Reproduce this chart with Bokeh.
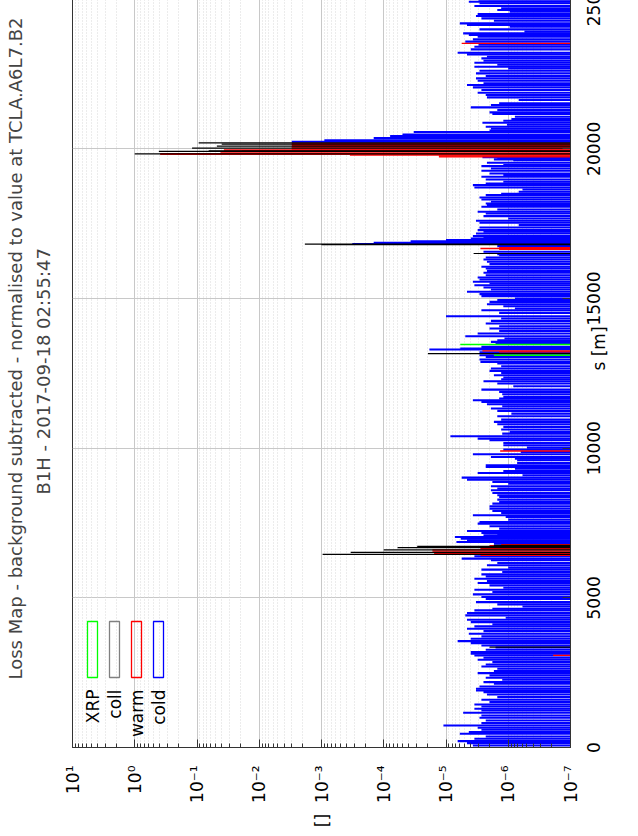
import math
from bokeh.plotting import figure
from bokeh.models import Range1d, FixedTicker, Title, Label, BoxAnnotation, InlineStyleSheet
from bokeh.embed import file_html
from bokeh.resources import INLINE

# ---------------- data ----------------
cold_s = [
    68, 146, 213, 291, 369, 458, 514, 592, 658, 736,
    815, 904, 993, 1071, 1160, 1238, 1294, 1372, 1438, 1516,
    1594, 1683, 1773, 1851, 1906, 1962, 2040, 2129, 2185, 2263,
    2330, 2408, 2486, 2552, 2630, 2708, 2775, 2853, 2931, 2998,
    3076, 3132, 3187, 3265, 3340, 3410, 3488, 3555, 3633, 3711,
    3800, 3889, 3967, 4045, 4112, 4190, 4268, 4335, 4413, 4491,
    4580, 4635, 4713, 4780, 4858, 4961, 5028, 5117, 5194, 5272,
    5339, 5417, 5495, 5562, 5640, 5718, 5785, 5863, 5941, 6008,
    6086, 6164, 6253, 6309, 6387, 6808, 6866, 6920, 6976, 7031,
    7087, 7120, 7166, 7233, 7311, 7389, 7478, 7534, 7612, 7701,
    7757, 7835, 7901, 7979, 8058, 8147, 8202, 8280, 8369, 8425,
    8503, 8592, 8648, 8726, 8815, 8871, 8949, 9016, 9094, 9172,
    9238, 9316, 9372, 9428, 9506, 9595, 9651, 9706, 9795, 9873,
    9950, 10019, 10097, 10175, 10264, 10320, 10398, 10487, 10543, 10621,
    10710, 10799, 10877, 10955, 11066, 11155, 11245, 11323, 11400, 11467,
    11545, 11601, 11657, 11712, 11802, 11880, 11957, 12069, 12158, 12236,
    12300, 12359, 12437, 12515, 12581, 12659, 12737, 12826, 12882, 12960,
    13049, 13105, 13200, 13294, 13327, 13384, 13494, 13551, 13606, 13662,
    13740, 13829, 13918, 13996, 14074, 14163, 14252, 14330, 14408, 14520,
    14609, 14664, 14742, 14809, 14887, 14950, 15000, 15078, 15145, 15223,
    15301, 15367, 15445, 15501, 15557, 15635, 15701, 15779, 15858, 15924,
    16002, 16058, 16147, 16225, 16303, 16370, 16448, 16481, 16560, 16750,
    16820, 16860, 16915, 16949, 17005, 17039, 17083, 17172, 17228, 17284,
    17373, 17451, 17529, 17595, 17673, 17751, 17840, 17896, 17974, 18063,
    18119, 18175, 18230, 18308, 18375, 18453, 18500, 18565, 18643, 18709,
    18787, 18843, 18899, 18977, 19066, 19121, 19177, 19266, 19344, 19422,
    19456, 19534, 19623, 19647, 19679, 19724, 20235, 20282, 20359, 20426,
    20480, 20560, 20610, 20670, 20739, 20803, 20870, 20939, 20995, 21073,
    21162, 21218, 21296, 21385, 21463, 21519, 21630, 21719, 21797, 21875,
    21964, 22053, 22131, 22187, 22276, 22354, 22432, 22521, 22610, 22688,
    22744, 22810, 22878, 22944, 23022, 23078, 23156, 23212, 23323, 23412,
    23480, 23580, 23657, 23747, 23802, 23858, 23914, 23992, 24081, 24137,
    24192, 24281, 24359, 24437, 24504, 24582, 24640, 24694, 24772, 24861,
    24916, 24980, 25060, 25140,
]
cold_v = [
    3.7e-6, 4.6e-6, 6.5e-6, 3.5e-6, 2.3e-6, 6.0e-6, 4.3e-6, 2.7e-6, 3.1e-6, 1.1e-5,
    2.7e-6, 2.3e-6, 2.9e-6, 2.7e-6, 5.3e-6, 2.7e-6, 3.5e-6, 2.7e-6, 3.5e-6, 2.0e-6,
    2.7e-6, 1.5e-6, 2.2e-6, 2.5e-6, 3.3e-6, 3.3e-6, 2.9e-6, 1.7e-6, 2.5e-6, 1.25e-6,
    2.3e-6, 2.0e-6, 3.1e-6, 1.7e-6, 1.5e-6, 2.7e-6, 2.3e-6, 1.8e-6, 3.1e-6, 2.5e-6,
    3.5e-6, 4.0e-6, 4.0e-6, 2.3e-6, 1.6e-6, 2.7e-6, 4.0e-6, 6.5e-6, 4.0e-6, 2.7e-6,
    4.3e-6, 2.5e-6, 4.6e-6, 3.5e-6, 1.8e-6, 4.0e-6, 4.6e-6, 1.1e-6, 4.9e-6, 4.6e-6,
    3.5e-6, 1.8e-6, 5.9e-7, 1.5e-6, 3.3e-6, 2.3e-6, 2.7e-6, 3.7e-6, 1.8e-6, 3.5e-6,
    1.2e-6, 2.0e-6, 3.1e-6, 2.2e-6, 3.5e-6, 2.3e-6, 2.7e-6, 1.25e-6, 2.7e-6, 1.0e-6,
    2.2e-6, 1.5e-6, 1.9e-6, 5.6e-6, 3.5e-6, 1.7e-6, 6.8e-6, 4.6e-6, 5.8e-6, 7.2e-6,
    2.5e-6, 1.5e-6, 2.7e-6, 4.6e-6, 1.4e-6, 2.0e-6, 3.1e-6, 2.9e-6, 1.0e-6, 1.1e-6,
    3.7e-6, 1.3e-6, 1.8e-6, 2.0e-6, 2.0e-6, 1.8e-6, 1.4e-6, 1.5e-6, 1.4e-6, 1.5e-6,
    1.8e-6, 1.9e-6, 1.5e-6, 1.9e-6, 1.0e-6, 1.8e-6, 4.6e-6, 5.6e-6, 5.9e-7, 3.1e-6,
    1.2e-6, 7.8e-7, 2.3e-6, 2.3e-6, 7.2e-7, 7.2e-7, 7.8e-7, 1.9e-6, 3.7e-6, 6.3e-7,
    1.2e-6, 5.0e-7, 1.2e-6, 1.2e-6, 2.0e-6, 3.1e-6, 8.5e-6, 1.25e-6, 9.5e-7, 1.3e-6,
    1.2e-6, 1.5e-6, 1.7e-6, 1.3e-6, 1.5e-6, 8.9e-7, 1.5e-6, 1.9e-6, 1.25e-6, 2.2e-6,
    2.7e-6, 3.7e-6, 1.4e-6, 1.2e-6, 1.25e-6, 1.4e-6, 2.7e-6, 8.3e-7, 1.5e-6, 2.5e-6,
    1.3e-6, 1.2e-6, 1.7e-6, 1.3e-6, 2.0e-6, 1.9e-6, 1.3e-6, 1.5e-6, 2.8e-6, 2.9e-6,
    2.3e-6, 2.9e-6, 2.9e-6, 1.85e-5, 5.9e-6, 2.7e-6, 1.6e-6, 1.9e-6, 1.5e-6, 1.15e-6,
    4.9e-6, 3.1e-6, 1.4e-6, 2.0e-6, 1.4e-6, 2.3e-6, 1.9e-6, 1.3e-6, 1.0e-5, 1.4e-6,
    2.7e-6, 7.8e-7, 1.2e-6, 2.2e-6, 2.0e-6, 1.5e-6, 7.8e-7, 2.7e-6, 2.9e-6, 4.6e-6,
    1.9e-6, 2.5e-6, 3.5e-6, 2.0e-6, 3.7e-6, 2.9e-6, 3.1e-6, 2.3e-6, 2.5e-6, 2.2e-6,
    2.3e-6, 2.7e-6, 2.0e-6, 2.2e-6, 2.5e-6, 2.3e-6, 1.4e-6, 1.5e-6, 2.5e-6, 1.5e-6,
    3.2e-4, 1.45e-4, 3.7e-5, 1.0e-5, 4.0e-6, 2.5e-6, 3.7e-6, 3.3e-6, 2.5e-6, 3.1e-6,
    2.9e-6, 6.8e-7, 2.9e-6, 3.3e-6, 1.0e-6, 2.5e-6, 2.3e-6, 3.1e-6, 1.5e-6, 2.7e-6,
    2.2e-6, 2.3e-6, 1.9e-6, 2.7e-6, 2.9e-6, 2.3e-6, 1.3e-6, 6.8e-7, 5.9e-7, 3.5e-6,
    3.7e-6, 2.3e-6, 1.2e-6, 2.3e-6, 2.7e-6, 1.2e-6, 2.0e-6, 2.7e-6, 1.9e-6, 2.7e-6,
    1.2e-6, 2.2e-6, 8.3e-7, 1.7e-6, 1.5e-6, 2.6e-6, 3.0e-3, 9.0e-4, 1.45e-4, 7.9e-5,
    5.0e-5, 3.3e-5, 2.0e-6, 1.9e-6, 2.3e-6, 1.05e-6, 2.6e-6, 1.2e-6, 8.9e-7, 7.8e-7,
    1.8e-6, 2.0e-6, 1.5e-6, 4.0e-6, 1.9e-6, 1.4e-6, 6.8e-7, 2.2e-6, 2.3e-6, 3.1e-6,
    2.7e-6, 3.7e-6, 4.6e-6, 2.5e-6, 3.1e-6, 3.3e-6, 2.3e-6, 3.3e-6, 2.9e-6, 1.0e-6,
    3.5e-6, 1.5e-6, 3.5e-6, 2.5e-6, 2.7e-6, 2.2e-6, 4.6e-6, 6.5e-6, 4.0e-6, 3.5e-6,
    3.0e-6, 4.9e-6, 3.7e-6, 3.1e-6, 4.3e-6, 5.3e-6, 5.5e-7, 2.9e-6, 9.5e-7, 4.6e-6,
    6.0e-6, 1.7e-6, 2.7e-6, 3.3e-6, 3.1e-6, 9.5e-7, 1.5e-6, 1.3e-6, 3.5e-6, 2.9e-6,
    4.3e-6, 3.0e-6, 3.5e-6, 2.5e-6,
]

warm_s = [3076, 6420, 6450, 6480, 6520, 6560, 6600, 6640, 6700, 6740, 6780,
          9905, 13215, 13249, 16640, 16670, 16700,
          19730, 19760, 19790, 19815, 19835, 19890, 19935, 19960, 19990,
          20030, 20070, 20110, 20150, 20180, 23524]
warm_v = [1.9e-7, 2.8e-6, 1.55e-5, 1.55e-5, 1.55e-5, 1.65e-5, 1.65e-5, 2.8e-6, 2.8e-6, 2.0e-6, 1.3e-6,
          1.35e-6, 1.4e-6, 2.6e-6, 1.4e-6, 2.8e-6, 1.4e-6,
          1.3e-5, 1.3e-5, 3.5e-4, 0.39, 0.39, 0.042, 0.019, 0.037, 3.0e-3,
          3.0e-3, 3.0e-3, 3.0e-3, 3.0e-3, 3.0e-3, 5.6e-6]

coll_s = [3354, 6452, 6520, 6600, 6675, 6720, 6753, 13160, 16504, 16800, 16815,
          19834, 19914, 19930, 20024, 20091, 20158, 20202]
coll_v = [2.0e-6, 9.6e-4, 3.4e-4, 1.0e-4, 6.0e-5, 2.9e-5, 1.7e-6, 1.95e-5, 3.6e-6, 1.0e-3, 1.85e-3,
          1.0, 0.41, 0.065, 0.12, 0.048, 0.04, 0.094]

xrp_s = [13105, 13461]
xrp_v = [1.7e-6, 5.9e-6]

value_ticks = [1e1, 1e0, 1e-1, 1e-2, 1e-3, 1e-4, 1e-5, 1e-6, 1e-7]
value_tick_labels = ["10¹", "10⁰", "10⁻¹", "10⁻²", "10⁻³", "10⁻⁴", "10⁻⁵", "10⁻⁶", "10⁻⁷"]
s_ticks = [0, 5000, 10000, 15000, 20000, 25000]
s_range = (0, 26659)

legend_labels = ["XRP", "coll", "warm", "cold"]
legend_colors = ["#00ff00", "#808080", "#ff0000", "#0000ff"]

title_line1 = "Loss Map - background subtracted - normalised to value at TCLA.A6L7.B2"
title_line2 = "B1H - 2017-09-18 02:55:47"

assert len(cold_s) == len(cold_v)
assert len(warm_s) == len(warm_v)
assert len(coll_s) == len(coll_v)

# ---------------- figure ----------------
# Drawn in the chart's natural orientation (s along x, log value along y);
# the drawing surface is then turned 90 degrees counter-clockwise, as in the
# reference picture (whose top is cropped by ~50 px).  The surface is kept
# square so that turning it does not change its measured size.
FONT = "DejaVu Sans"
BASE = value_ticks[-1]
minor_ticks = [m * d for d in value_ticks[1:] for m in range(2, 10)]

SIDE = 886
p = figure(width=SIDE, height=SIDE, y_axis_type="log",
           x_range=Range1d(*s_range),
           y_range=Range1d(value_ticks[-1], value_ticks[0]),
           output_backend="svg", toolbar_location=None,
           title=title_line1, title_location="above",
           min_border_left=88, min_border_right=0, min_border_top=72,
           min_border_bottom=SIDE - 570,
           background_fill_color="white", border_fill_color="white")
p.stylesheets = [InlineStyleSheet(css="""
:host { overflow: visible !important; }
.bk-Canvas { transform: translateY(836px) rotate(-90deg); transform-origin: 0 0; }
""")]

p.title.text_font = FONT
p.title.text_font_size = "18px"
p.title.text_font_style = "normal"
p.title.align = "center"
p.title.standoff = -26
p.add_layout(Title(text=title_line2, text_font=FONT, text_font_size="18px",
                   text_font_style="normal", align="left", offset=253, standoff=37), "above")

xa = p.xaxis[0]   # s axis
ya = p.yaxis[0]   # value axis (log)
ya.ticker = FixedTicker(ticks=value_ticks, minor_ticks=minor_ticks)
ya.major_label_overrides = dict(zip(value_ticks, value_tick_labels))
ya.major_label_standoff = 18
xa.ticker = FixedTicker(ticks=s_ticks)
xa.major_label_standoff = 16
for ax in (xa, ya):
    ax.major_label_text_font = FONT
    ax.major_label_text_font_size = "17px"
    ax.major_label_text_color = "black"
    ax.major_tick_in = 8
    ax.major_tick_out = 0
    ax.minor_tick_in = 4
    ax.minor_tick_out = 0
    ax.axis_line_color = "#333333"
    ax.major_tick_line_color = "#333333"
    ax.minor_tick_line_color = "#333333"
    ax.axis_label_text_font = FONT
    ax.axis_label_text_font_size = "17px"
    ax.axis_label_text_font_style = "normal"
    ax.axis_label_text_color = "black"
ya.axis_label = "[]"
ya.axis_label_orientation = "horizontal"
ya.axis_label_standoff = 8
xa.axis_label = "s [m]"
xa.axis_label_standoff = -14

p.ygrid.ticker = FixedTicker(ticks=value_ticks, minor_ticks=minor_ticks)
p.ygrid.grid_line_color = "#c8c8c8"
p.ygrid.minor_grid_line_color = "#d8d8d8"
p.ygrid.minor_grid_line_dash = "1 2"
p.xgrid.ticker = FixedTicker(ticks=s_ticks)
p.xgrid.grid_line_color = "#c8c8c8"
p.outline_line_color = "#333333"

# ---------------- bars ----------------
p.vbar(x=cold_s, bottom=BASE, top=cold_v, width=70, fill_color="#0000ff", line_color=None)
p.vbar(x=warm_s, bottom=BASE, top=warm_v, width=45, fill_color="#ff0000", line_color=None)
p.segment(x0=coll_s, y0=BASE, x1=coll_s, y1=coll_v, line_color="black", line_width=1.2)
p.segment(x0=xrp_s, y0=BASE, x1=xrp_s, y1=xrp_v, line_color="#00ff00", line_width=1.5)

# ---------------- key (text then sample box, top-left of the frame) ----------------
for i, (lab, col) in enumerate(zip(legend_labels, legend_colors)):
    cy = 478 - 22 * i
    p.add_layout(BoxAnnotation(left=70, right=126, bottom=cy - 5, top=cy + 5,
                               left_units="screen", right_units="screen",
                               bottom_units="screen", top_units="screen",
                               fill_color=None, fill_alpha=0, line_color=col,
                               line_alpha=1.0, line_width=1.3))
    p.add_layout(Label(x=58, y=cy, x_units="screen", y_units="screen", text=lab,
                       text_align="right", text_baseline="middle",
                       text_font=FONT, text_font_size="17px", text_color="black"))

open("out.html", "w").write(file_html(p, INLINE))
